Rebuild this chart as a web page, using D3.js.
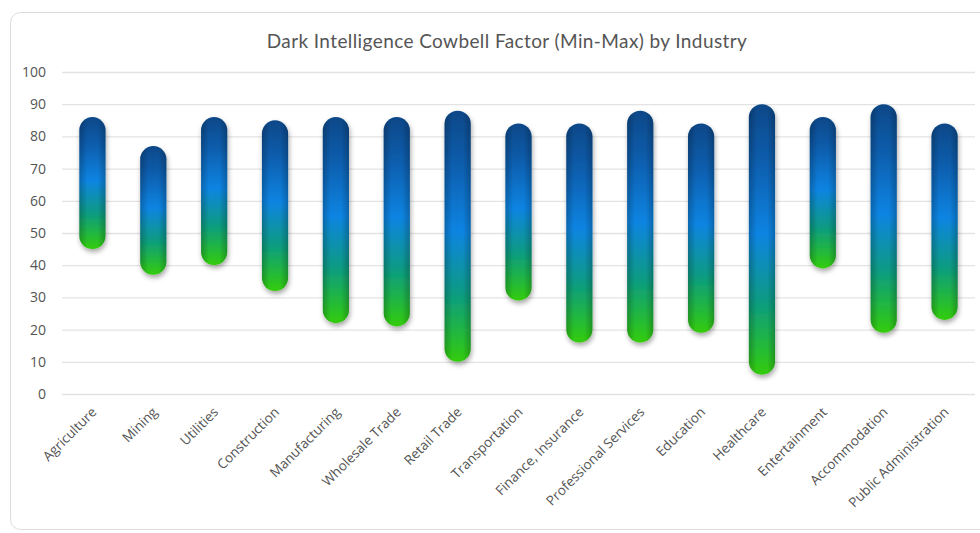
<!DOCTYPE html>
<html>
<head>
<meta charset="utf-8">
<script src="https://cdn.jsdelivr.net/npm/d3@7"></script>
<style>
  body { margin: 0; background: #fff; }
  svg { display: block; }
</style>
</head>
<body>
<script>
var w = 980;
var h = 533;

// ---- data ----
var industries = ["Agriculture", "Mining", "Utilities", "Construction", "Manufacturing",
  "Wholesale Trade", "Retail Trade", "Transportation", "Finance, Insurance",
  "Professional Services", "Education", "Healthcare", "Entertainment",
  "Accommodation", "Public Administration"];
var minValues = [45, 37, 40, 32, 22, 21, 10, 29, 16, 16, 19, 6, 39, 19, 23];
var maxValues = [86, 77, 86, 85, 86, 86, 88, 84, 84, 88, 84, 90, 86, 90, 84];
var yTicks = [0, 10, 20, 30, 40, 50, 60, 70, 80, 90, 100];

var margin = {left: 62, right: 5, top: 72, bottom: 139};

var svg = d3.select("body").append("svg")
    .attr("width", w)
    .attr("height", h);

var defs = svg.append("defs");

var grad = defs.append("linearGradient")
    .attr("id", "barGrad")
    .attr("x1", 0).attr("y1", 0).attr("x2", 0).attr("y2", 1);
grad.append("stop").attr("offset", "0%").attr("stop-color", "#0a4888");
grad.append("stop").attr("offset", "20%").attr("stop-color", "#0a5cab");
grad.append("stop").attr("offset", "48%").attr("stop-color", "#0a84e2");
grad.append("stop").attr("offset", "72%").attr("stop-color", "#0a9a86");
grad.append("stop").attr("offset", "100%").attr("stop-color", "#33cc0c");

var shade = defs.append("linearGradient")
    .attr("id", "shade")
    .attr("x1", 0).attr("y1", 0).attr("x2", 1).attr("y2", 0);
shade.append("stop").attr("offset", "0%").attr("stop-color", "#000").attr("stop-opacity", 0.22);
shade.append("stop").attr("offset", "30%").attr("stop-color", "#000").attr("stop-opacity", 0);
shade.append("stop").attr("offset", "70%").attr("stop-color", "#000").attr("stop-opacity", 0);
shade.append("stop").attr("offset", "100%").attr("stop-color", "#000").attr("stop-opacity", 0.22);

var shadow = defs.append("filter")
    .attr("id", "shadow")
    .attr("x", "-50%").attr("y", "-20%").attr("width", "200%").attr("height", "140%");
shadow.append("feDropShadow")
    .attr("dx", 1).attr("dy", 3).attr("stdDeviation", 2.5)
    .attr("flood-color", "#000").attr("flood-opacity", 0.35);

// card
svg.append("rect")
    .attr("x", 10.5)
    .attr("y", 12.5)
    .attr("width", 985)
    .attr("height", 517)
    .attr("rx", 10)
    .attr("fill", "#fff")
    .attr("stroke", "#dcdcdc");

// title
svg.append("text")
    .text("Dark Intelligence Cowbell Factor (Min-Max) by Industry")
    .attr("x", 507)
    .attr("y", 48)
    .attr("text-anchor", "middle")
    .attr("font-size", 19)
    .attr("letter-spacing", 0.4)
    .attr("font-family", "Lato")
    .attr("fill", "#555");

var x = d3.scaleBand()
    .domain(industries)
    .range([margin.left, w - margin.right])
    .paddingInner(0.57)
    .paddingOuter(0.285);

var y = d3.scaleLinear()
    .domain([0, 100])
    .range([h - margin.bottom, margin.top]);

// y axis gridlines + labels
var yAxis = d3.axisLeft(y)
    .tickValues(yTicks)
    .tickSize(-(w - margin.right - margin.left))
    .tickPadding(16);

var gy = svg.append("g")
    .attr("transform", "translate(" + margin.left + ",0)")
    .call(yAxis);
gy.select(".domain").remove();
gy.selectAll(".tick line").attr("stroke", "#e3e3e3").attr("stroke-width", 1.3);
gy.selectAll(".tick text")
    .attr("font-size", 14)
    .attr("font-family", "Open Sans")
    .attr("fill", "#555");

// x axis labels
var xAxis = d3.axisBottom(x).tickSize(0).tickPadding(0);
var gx = svg.append("g")
    .attr("transform", "translate(0," + (h - margin.bottom) + ")")
    .call(xAxis);
gx.select(".domain").remove();
gx.selectAll(".tick text")
    .attr("font-size", 13.5)
    .attr("font-family", "Open Sans")
    .attr("fill", "#555")
    .attr("text-anchor", "end")
    .attr("dy", 0)
    .attr("transform", "translate(5,19) rotate(-45)");

// bars
var bars = svg.append("g").selectAll("g")
    .data(industries)
    .join("g");

bars.append("rect")
    .attr("x", function (d) { return x(d); })
    .attr("y", function (d, i) { return y(maxValues[i]); })
    .attr("width", x.bandwidth())
    .attr("height", function (d, i) { return y(minValues[i]) - y(maxValues[i]); })
    .attr("rx", x.bandwidth() / 2)
    .attr("fill", "url(#barGrad)")
    .attr("filter", "url(#shadow)");

bars.append("rect")
    .attr("x", function (d) { return x(d); })
    .attr("y", function (d, i) { return y(maxValues[i]); })
    .attr("width", x.bandwidth())
    .attr("height", function (d, i) { return y(minValues[i]) - y(maxValues[i]); })
    .attr("rx", x.bandwidth() / 2)
    .attr("fill", "url(#shade)");
</script>
</body>
</html>
